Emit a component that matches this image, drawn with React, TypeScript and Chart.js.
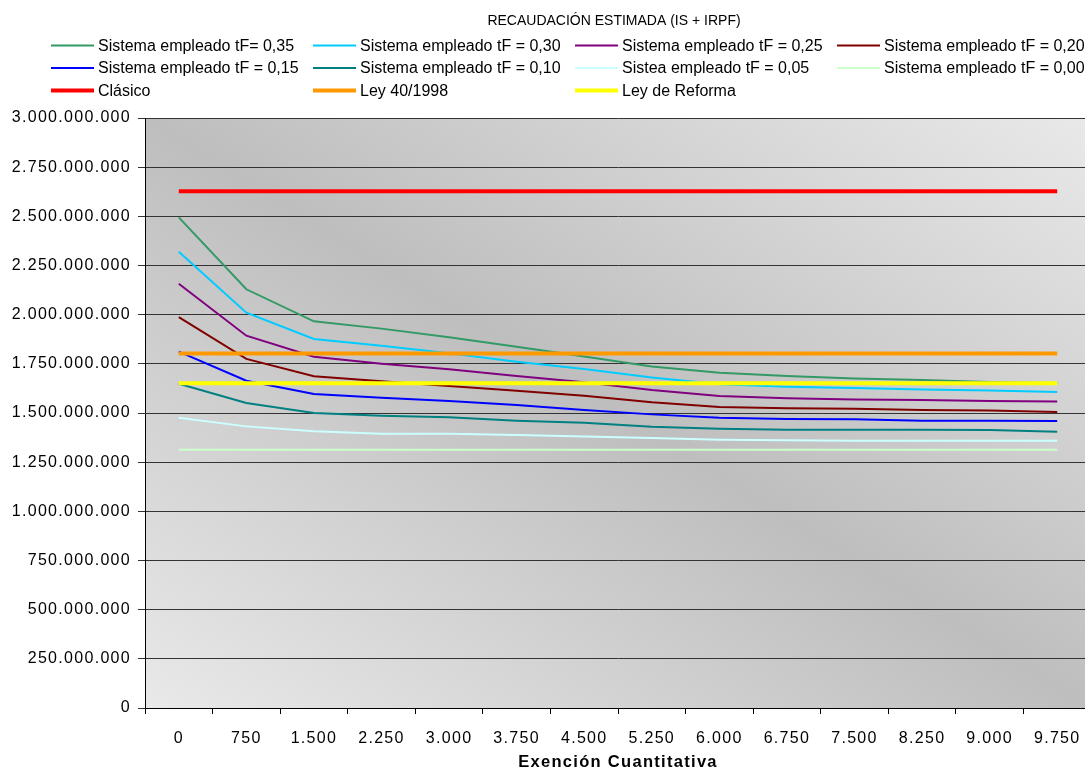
import React, { useEffect, useRef } from "react";
import { Chart, registerables } from "chart.js";

Chart.register(...registerables);

// Exención cuantitativa (eje X)
const exenciones = ["0", "750", "1.500", "2.250", "3.000", "3.750", "4.500", "5.250", "6.000", "6.750", "7.500", "8.250", "9.000", "9.750"];

// Recaudación estimada, en millones
const tF035 = [2495, 2129, 1966, 1929, 1885, 1837, 1787, 1736, 1705, 1688, 1676, 1668, 1658, 1651];
const tF030 = [2320, 2010, 1876, 1842, 1804, 1761, 1724, 1681, 1646, 1634, 1627, 1620, 1614, 1607];
const tF025 = [2157, 1893, 1786, 1751, 1722, 1688, 1656, 1617, 1586, 1575, 1569, 1566, 1561, 1559];
const tF020 = [1987, 1775, 1687, 1661, 1637, 1613, 1588, 1555, 1531, 1524, 1522, 1515, 1513, 1505];
const tF015 = [1812, 1664, 1597, 1578, 1561, 1541, 1515, 1493, 1476, 1470, 1468, 1461, 1460, 1459];
const tF010 = [1649, 1551, 1500, 1486, 1478, 1461, 1451, 1430, 1420, 1415, 1415, 1415, 1414, 1405];
const tF005 = [1476, 1432, 1407, 1395, 1395, 1388, 1380, 1373, 1364, 1361, 1359, 1359, 1359, 1359];
const tF000 = [1313, 1313, 1313, 1313, 1313, 1313, 1313, 1313, 1313, 1313, 1313, 1313, 1313, 1313];
const clasico = [2628, 2628, 2628, 2628, 2628, 2628, 2628, 2628, 2628, 2628, 2628, 2628, 2628, 2628];
const ley40 = [1803, 1803, 1803, 1803, 1803, 1803, 1803, 1803, 1803, 1803, 1803, 1803, 1803, 1803];
const leyReforma = [1651, 1651, 1651, 1651, 1651, 1651, 1651, 1651, 1651, 1651, 1651, 1651, 1651, 1651];

// Eje Y (millones)
const yMin = 0;
const yMax = 3000;
const yStep = 250;

const titulo = "RECAUDACIÓN ESTIMADA (IS + IRPF)";
const tituloEjeX = "Exención Cuantitativa";

const FONT = "'Liberation Sans', Arial, sans-serif";

const series = [
  { label: "Sistema empleado tF= 0,35", data: tF035, color: "#339966", width: 2 },
  { label: "Sistema empleado tF = 0,30", data: tF030, color: "#00CCFF", width: 2 },
  { label: "Sistema empleado tF = 0,25", data: tF025, color: "#800080", width: 2 },
  { label: "Sistema empleado tF = 0,20", data: tF020, color: "#800000", width: 2 },
  { label: "Sistema empleado tF = 0,15", data: tF015, color: "#0000FF", width: 2 },
  { label: "Sistema empleado tF = 0,10", data: tF010, color: "#008080", width: 2 },
  { label: "Sistea empleado tF = 0,05", data: tF005, color: "#CCFFFF", width: 2 },
  { label: "Sistema empleado tF = 0,00", data: tF000, color: "#CCFFCC", width: 2 },
  { label: "Clásico", data: clasico, color: "#FF0000", width: 4 },
  { label: "Ley 40/1998", data: ley40, color: "#FF9900", width: 4 },
  { label: "Ley de Reforma", data: leyReforma, color: "#FFFF00", width: 4 },
];

function miles(v: number): string {
  return String(Math.round(v * 1e6)).replace(/\B(?=(\d{3})+(?!\d))/g, ".");
}

// Fondo degradado del área de trazado, título y leyenda en rejilla de 4 columnas
const panelPlugin = {
  id: "panel",
  beforeDraw(chart: any) {
    const { ctx, chartArea: a } = chart;
    ctx.save();
    ctx.translate(a.left, a.top);
    ctx.scale(a.right - a.left, a.bottom - a.top);
    const g = ctx.createLinearGradient(0, 1, 1, 0);
    g.addColorStop(0, "#e9e9e9");
    g.addColorStop(0.5, "#bebebe");
    g.addColorStop(1, "#e9e9e9");
    ctx.fillStyle = g;
    ctx.fillRect(0, 0, 1, 1);
    ctx.restore();
    ctx.letterSpacing = "1.3px";
  },
  afterDraw(chart: any) {
    const { ctx } = chart;
    ctx.save();
    ctx.letterSpacing = "0px";
    ctx.fillStyle = "#000";
    ctx.textBaseline = "middle";
    ctx.textAlign = "center";
    ctx.font = `14px ${FONT}`;
    ctx.fillText(titulo, 614, 21);

    ctx.textAlign = "left";
    ctx.font = `16px ${FONT}`;
    const colX = [51, 313, 575, 837];
    const rowY = [45.5, 68, 90.5];
    chart.data.datasets.forEach((ds: any, i: number) => {
      const x = colX[i % 4];
      const y = rowY[Math.floor(i / 4)];
      ctx.strokeStyle = ds.borderColor;
      ctx.lineWidth = ds.borderWidth;
      ctx.beginPath();
      ctx.moveTo(x, y);
      ctx.lineTo(x + 43, y);
      ctx.stroke();
      ctx.fillText(ds.label, x + 47, y + 1);
    });
    ctx.restore();
  },
};

export default function App() {
  const ref = useRef<HTMLCanvasElement>(null);

  useEffect(() => {
    const canvas = ref.current;
    if (!canvas) return;
    const chart = new Chart(canvas, {
      type: "line",
      data: {
        labels: exenciones,
        datasets: series.map((s) => ({
          label: s.label,
          data: s.data,
          borderColor: s.color,
          backgroundColor: s.color,
          borderWidth: s.width,
          pointRadius: 0,
          tension: 0,
          fill: false,
          order: s.width > 2 ? 0 : 1,
        })),
      },
      options: {
        responsive: false,
        devicePixelRatio: 1,
        animation: false,
        layout: { padding: { top: 118, right: 4, left: 0, bottom: 0 } },
        plugins: {
          legend: { display: false },
          title: { display: false },
          tooltip: { enabled: false },
        },
        scales: {
          x: {
            type: "category",
            offset: true,
            grid: {
              offset: true,
              drawOnChartArea: false,
              drawTicks: true,
              tickLength: 6,
              color: "#000",
            },
            border: { display: true, color: "#000", width: 1 },
            ticks: {
              color: "#000",
              font: { family: FONT, size: 16 },
              padding: 15,
              autoSkip: false,
              maxRotation: 0,
              minRotation: 0,
            },
            title: {
              display: true,
              text: tituloEjeX,
              color: "#000",
              font: { family: FONT, size: 16.5, weight: "bold" },
              padding: { top: 0, bottom: 0 },
            },
            afterFit: (scale: any) => {
              scale.height = 64;
            },
          },
          y: {
            min: yMin,
            max: yMax,
            grid: {
              color: "#333",
              drawTicks: true,
              tickLength: 7,
              lineWidth: 1,
            },
            border: { display: true, color: "#000", width: 1 },
            ticks: {
              stepSize: yStep,
              color: "#000",
              font: { family: FONT, size: 16 },
              padding: 7,
              callback: (v: any) => miles(Number(v)),
            },
            afterFit: (scale: any) => {
              scale.width = 145;
            },
          },
        },
      },
      plugins: [panelPlugin],
    } as any);
    return () => chart.destroy();
  }, []);

  return (
    <div
      style={{
        position: "absolute",
        left: 0,
        top: 0,
        width: 1085,
        height: 772,
        overflow: "hidden",
        background: "#fff",
      }}
    >
      <canvas ref={ref} width={1095} height={772} style={{ display: "block", width: 1095, height: 772 }} />
    </div>
  );
}
